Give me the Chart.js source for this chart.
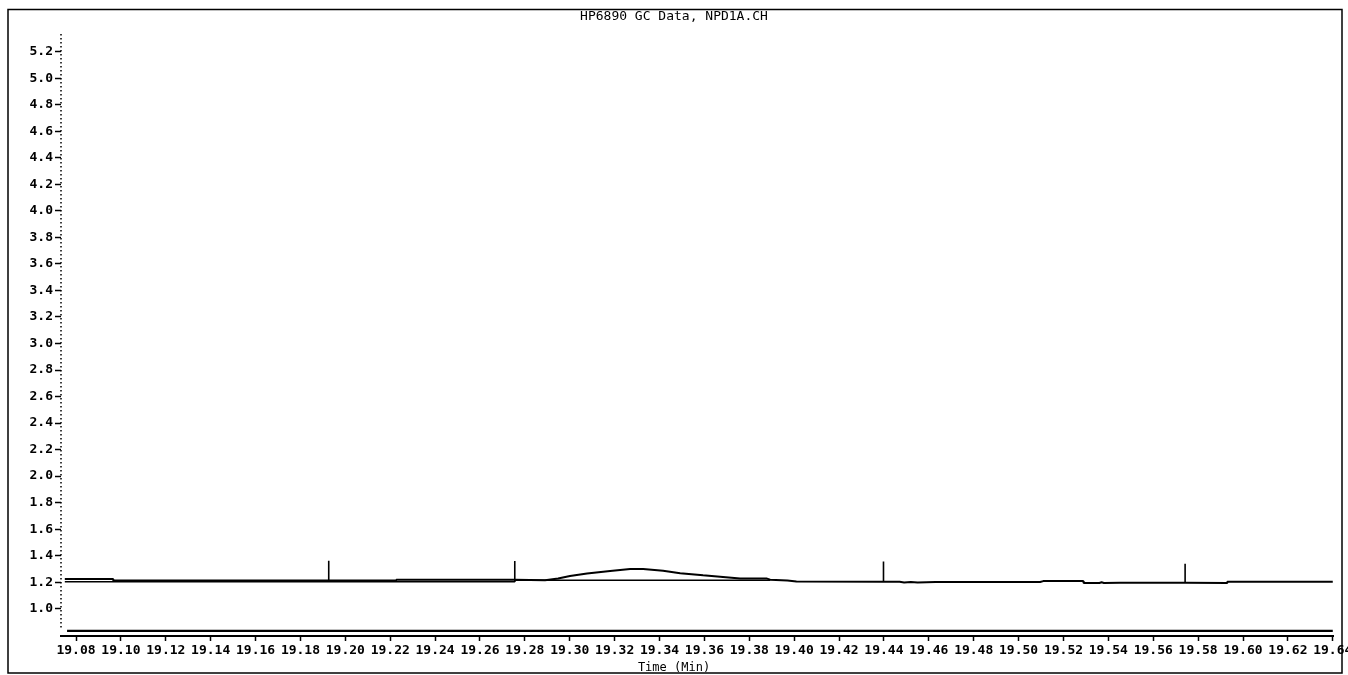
<!DOCTYPE html>
<html>
<head>
<meta charset="utf-8">
<script src="https://cdn.jsdelivr.net/npm/chart.js@4/dist/chart.umd.min.js"></script>
<style>
  html, body { margin: 0; padding: 0; background: #fff; }
  canvas { display: block; }
</style>
</head>
<body>
<canvas id="gc" width="1348" height="675"></canvas>
<script>
const chartTitle = 'HP6890 GC Data, NPD1A.CH';
const xTitle = 'Time (Min)';

const xTicks = [19.08, 19.10, 19.12, 19.14, 19.16, 19.18, 19.20, 19.22, 19.24, 19.26,
  19.28, 19.30, 19.32, 19.34, 19.36, 19.38, 19.40, 19.42, 19.44, 19.46,
  19.48, 19.50, 19.52, 19.54, 19.56, 19.58, 19.60, 19.62, 19.64];
const yTicks = [1.0, 1.2, 1.4, 1.6, 1.8, 2.0, 2.2, 2.4, 2.6, 2.8, 3.0,
  3.2, 3.4, 3.6, 3.8, 4.0, 4.2, 4.4, 4.6, 4.8, 5.0, 5.2];

// detector signal
const signalTime = [19.075, 19.0965, 19.0966, 19.2226, 19.2227, 19.2755, 19.289, 19.2948,
  19.3001, 19.3077, 19.318, 19.3269, 19.3327, 19.3416, 19.3492, 19.3594, 19.367, 19.3759,
  19.3879, 19.3893, 19.397, 19.401, 19.4398, 19.447, 19.449, 19.452, 19.455, 19.459,
  19.463, 19.5096, 19.511, 19.5288, 19.529, 19.536, 19.537, 19.538, 19.5452, 19.5742,
  19.5929, 19.593, 19.640];
const signalValue = [1.224, 1.224, 1.212, 1.212, 1.219, 1.219, 1.215, 1.227,
  1.246, 1.266, 1.285, 1.300, 1.299, 1.286, 1.268, 1.252, 1.241, 1.228,
  1.227, 1.219, 1.213, 1.205, 1.203, 1.203, 1.198, 1.202, 1.197, 1.199,
  1.201, 1.201, 1.208, 1.208, 1.194, 1.194, 1.199, 1.194, 1.195, 1.196,
  1.194, 1.204, 1.204];

// integration baseline
const baseTime = [19.075, 19.2755, 19.2755, 19.3893];
const baseValue = [1.203, 1.203, 1.214, 1.214];

// event tick marks
const markerTime = [19.1926, 19.2755, 19.4398, 19.5742];
const markerLow = [1.205, 1.203, 1.203, 1.196];
const markerHigh = [1.361, 1.359, 1.355, 1.338];

// second trace near the bottom
const lowerTime = [19.076, 19.640];
const lowerValue = [0.832, 0.832];

const xMin = 19.0733, xMax = 19.6401;
const yMin = 0.794, yMax = 5.334;

function toPoints(xs, ys) {
  return xs.map((x, i) => ({ x: x, y: ys[i] }));
}

function markerPoints() {
  const pts = [];
  markerTime.forEach((t, i) => {
    pts.push({ x: t, y: markerLow[i] }, { x: t, y: markerHigh[i] }, { x: t, y: null });
  });
  return pts;
}

const tickFont = { family: 'DejaVu Sans Mono', size: 13, weight: 'bold' };

const framePlugin = {
  id: 'frame',
  afterDraw(chart) {
    const { ctx, chartArea } = chart;
    ctx.save();
    ctx.strokeStyle = '#000';
    ctx.lineWidth = 1.5;
    ctx.strokeRect(8, 9.5, 1334, 663.5);
    // dotted y axis
    ctx.setLineDash([1.5, 2.5]);
    ctx.beginPath();
    ctx.moveTo(chartArea.left, chartArea.top);
    ctx.lineTo(chartArea.left, chartArea.bottom - 6);
    ctx.stroke();
    ctx.restore();
  }
};

function lineSet(data, width) {
  return {
    data: data,
    borderColor: '#000',
    borderWidth: width,
    borderJoinStyle: 'bevel',
    pointRadius: 0,
    tension: 0,
    fill: false
  };
}

new Chart(document.getElementById('gc'), {
  type: 'line',
  data: {
    datasets: [
      lineSet(toPoints(signalTime, signalValue), 2),
      lineSet(toPoints(baseTime, baseValue), 1.5),
      lineSet(markerPoints(), 1.6),
      lineSet(toPoints(lowerTime, lowerValue), 2.2)
    ]
  },
  options: {
    responsive: false,
    animation: false,
    layout: { padding: { left: 0, right: 0, top: 0, bottom: 1.6 } },
    plugins: {
      legend: { display: false },
      tooltip: { enabled: false },
      title: {
        display: true,
        text: chartTitle,
        color: '#000',
        font: { family: 'DejaVu Sans Mono', size: 13, weight: 'normal' },
        padding: { top: 8.5, bottom: 9.9 }
      },
      subtitle: {
        display: true,
        position: 'bottom',
        text: xTitle,
        color: '#000',
        font: { family: 'DejaVu Sans Mono', size: 12, lineHeight: 1 },
        padding: 0
      }
    },
    scales: {
      x: {
        type: 'linear',
        min: xMin,
        max: xMax,
        afterBuildTicks: scale => { scale.ticks = xTicks.map(value => ({ value })); },
        afterFit: scale => { scale.paddingLeft = 0; scale.paddingRight = 0; scale.height = 25.4; },
        ticks: {
          autoSkip: false,
          maxRotation: 0,
          minRotation: 0,
          padding: 2,
          color: '#000',
          font: tickFont,
          callback: v => v.toFixed(2)
        },
        grid: { drawOnChartArea: false, tickLength: 5, tickColor: '#000', tickWidth: 1.5 },
        border: { color: '#000', width: 2 }
      },
      y: {
        type: 'linear',
        min: yMin,
        max: yMax,
        afterBuildTicks: scale => { scale.ticks = yTicks.map(value => ({ value })); },
        afterFit: scale => { scale.width = 61; scale.paddingTop = 0; scale.paddingBottom = 0; },
        ticks: {
          padding: 2,
          color: '#000',
          font: tickFont,
          callback: v => v.toFixed(1)
        },
        grid: { drawOnChartArea: false, tickLength: 6, tickColor: '#000', tickWidth: 1.5 },
        border: { display: false }
      },
      edge: {
        type: 'linear',
        position: 'right',
        ticks: { display: false },
        grid: { display: false },
        border: { display: false },
        afterFit: scale => { scale.width = 15; }
      }
    }
  },
  plugins: [framePlugin]
});
</script>
</body>
</html>
